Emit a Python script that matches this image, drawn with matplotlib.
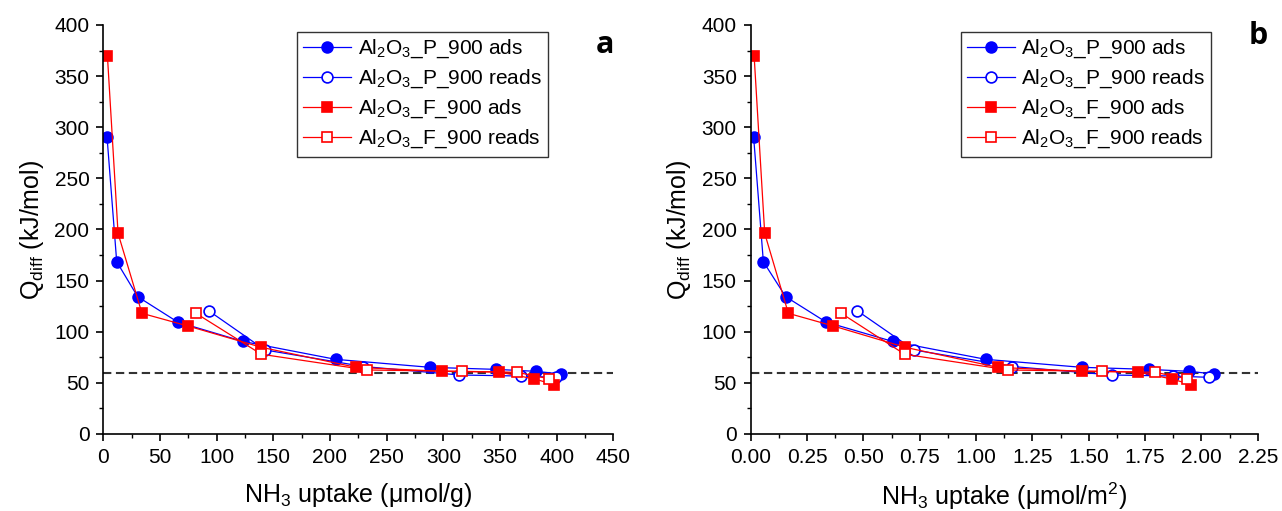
import numpy as np
import matplotlib
matplotlib.use('Agg')
import matplotlib.pyplot as plt
from matplotlib.ticker import MultipleLocator

plt.rcParams['font.family'] = ['Liberation Sans', 'DejaVu Sans']
plt.rcParams['mathtext.default'] = 'regular'

# differential heat (kJ/mol), shared by both panels
p_ads_q = [290, 168.5, 134.3, 109.5, 90.5, 73, 65.2, 63.2, 61.3, 58.7]
p_rea_q = [120.5, 82.2, 66, 57.7, 56.7, 55.4]
f_ads_q = [370, 196.2, 118, 105.6, 84.8, 65.2, 61.3, 60.6, 53.8, 48.4]
f_rea_q = [118, 78, 62.6, 61.3, 60.3, 54.1]

# uptake in umol/g (panel a)
p_ads_g = [3.3, 11.8, 30.3, 65.6, 123.3, 205, 288.3, 346.5, 381.5, 403.6]
p_rea_g = [93, 142.6, 229.5, 314.2, 368.3, 399.4]
f_ads_g = [3.6, 13, 34.1, 74.7, 139.4, 223, 298.9, 349.5, 380.4, 397.7]
f_rea_g = [81.8, 139.4, 232.7, 316.5, 365, 393]

# uptake in umol/m2 (panel b)
p_ads_m2 = [0.013, 0.056, 0.155, 0.334, 0.63, 1.043, 1.469, 1.766, 1.944, 2.056]
p_rea_m2 = [0.473, 0.724, 1.161, 1.601, 1.875, 2.034]
f_ads_m2 = [0.015, 0.062, 0.167, 0.367, 0.685, 1.096, 1.469, 1.720, 1.868, 1.954]
f_rea_m2 = [0.402, 0.683, 1.143, 1.557, 1.795, 1.935]

labels = ['Al$_2$O$_3$_P_900 ads', 'Al$_2$O$_3$_P_900 reads',
          'Al$_2$O$_3$_F_900 ads', 'Al$_2$O$_3$_F_900 reads']

fig = plt.figure(figsize=(12.82, 5.11), dpi=100)
ax_a = fig.add_axes([0.0806, 0.1507, 0.3978, 0.8004])
ax_b = fig.add_axes([0.5856, 0.1507, 0.3955, 0.8004])


def draw(ax, xs, xmax, major, xlabel, leg_x, letter, letter_pos):
    series = [
        (xs[0], p_ads_q, 'o', 'b', 'b'),
        (xs[1], p_rea_q, 'o', 'b', 'white'),
        (xs[2], f_ads_q, 's', 'r', 'r'),
        (xs[3], f_rea_q, 's', 'r', 'white'),
    ]
    for (x, y, m, c, fc), lab in zip(series, labels):
        ax.plot(x, y, marker=m, color=c, mfc=fc, mec=c, ms=7.8 if m == 'o' else 7.2,
                mew=1.2, lw=0.9, label=lab)
    ax.axhline(60, color='#333333', ls='--', lw=1.5, dashes=(4, 2.2), zorder=0)
    ax.set_xlim(0, xmax)
    ax.set_ylim(0, 400)
    ax.xaxis.set_major_locator(MultipleLocator(major))
    ax.xaxis.set_minor_locator(MultipleLocator(major / 2))
    ax.yaxis.set_major_locator(MultipleLocator(50))
    ax.yaxis.set_minor_locator(MultipleLocator(25))
    for s in ['top', 'right']:
        ax.spines[s].set_visible(False)
    for s in ['left', 'bottom']:
        ax.spines[s].set_linewidth(1.2)
    ax.tick_params(which='major', direction='out', length=5, width=1.2, labelsize=15)
    ax.tick_params(axis='x', which='major', pad=5)
    ax.tick_params(axis='y', which='major', pad=5)
    ax.tick_params(which='minor', direction='out', length=3, width=1.0)
    ax.set_xlabel(xlabel, fontsize=18, labelpad=10)
    ax.set_ylabel('Q$_{diff}$ (kJ/mol)', fontsize=18, labelpad=6)
    leg = ax.legend(loc='upper left', bbox_to_anchor=(leg_x, 0.984), borderaxespad=0,
                    fontsize=15, frameon=True, fancybox=False, edgecolor='black',
                    handlelength=2.3, labelspacing=0.36, borderpad=0.3, handletextpad=0.3)
    leg.get_frame().set_linewidth(1.0)
    ax.text(letter_pos[0], letter_pos[1], letter, transform=ax.transAxes, fontsize=22,
            fontweight='bold', family='Open Sans', ha='center', va='center')


draw(ax_a, [p_ads_g, p_rea_g, f_ads_g, f_rea_g], 450, 50,
     'NH$_3$ uptake (μmol/g)', 0.38, 'a', (0.984, 0.952))
draw(ax_b, [p_ads_m2, p_rea_m2, f_ads_m2, f_rea_m2], 2.25, 0.25,
     'NH$_3$ uptake (μmol/m$^2$)', 0.414, 'b', (1.0, 0.972))
ax_b.xaxis.set_major_formatter(matplotlib.ticker.FormatStrFormatter('%.2f'))

fig.savefig('out.png', dpi=100)
